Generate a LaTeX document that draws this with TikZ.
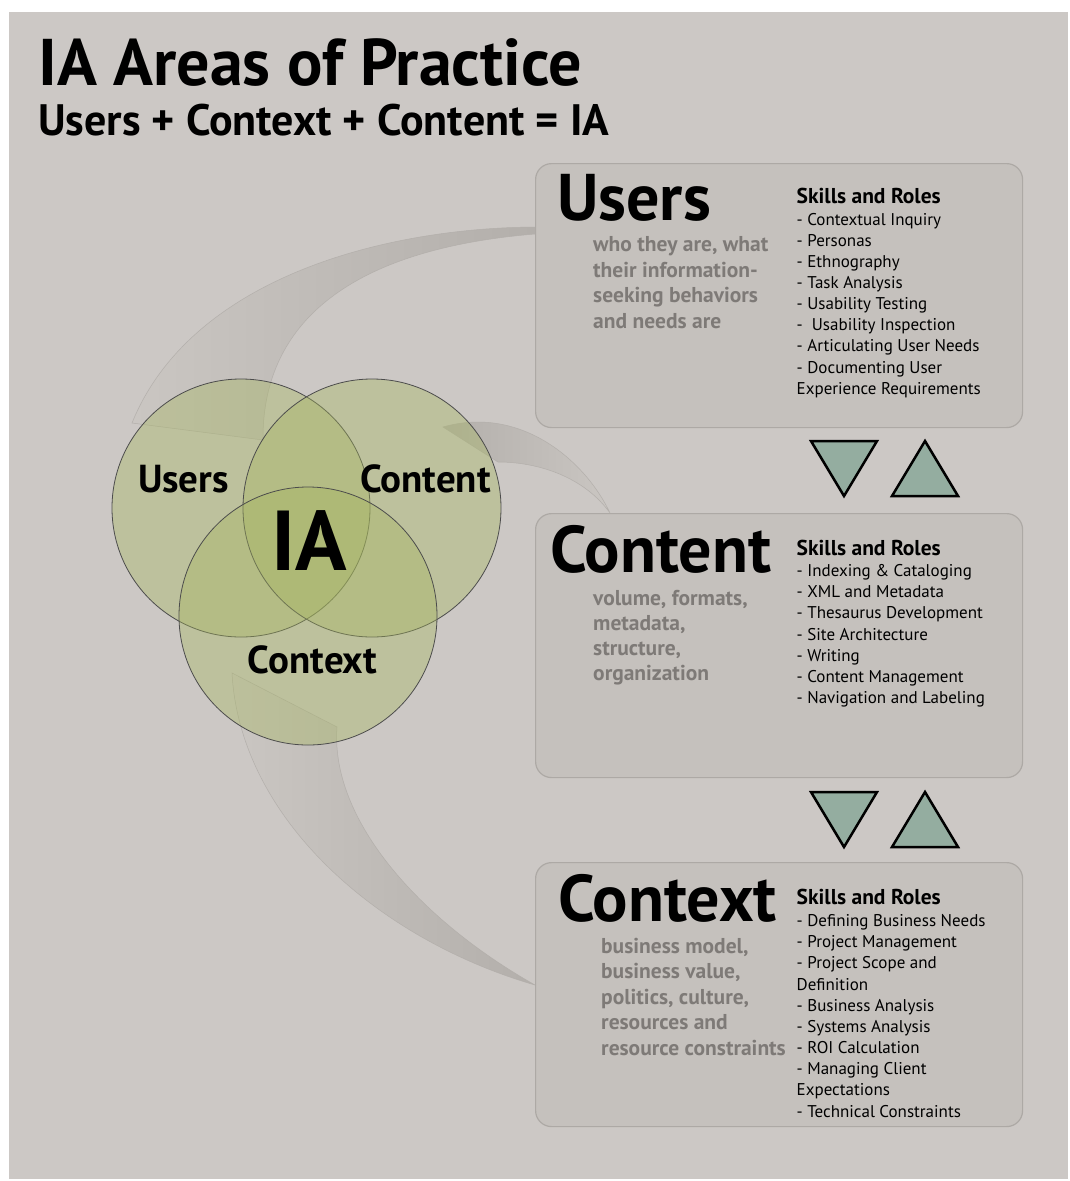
\documentclass[tikz,border=0pt]{standalone}
\usepackage{fontspec}
\setmainfont{PT Sans}
\usetikzlibrary{positioning, shapes.geometric}
\definecolor{bggray}{HTML}{CCC8C5}
\definecolor{boxgray}{HTML}{C5C1BD}
\definecolor{boxline}{HTML}{ADA9A5}
\definecolor{venngreen}{HTML}{A6B65E}
\definecolor{descgray}{HTML}{7E7A77}
\definecolor{trigreen}{HTML}{94ADA0}
\definecolor{swlight}{HTML}{CAC6C2}
\definecolor{swdark}{HTML}{B3AFAB}
\tikzset{
    area/.style = {draw = boxline, fill = boxgray, rounded corners = 16pt, line width = 1.2pt, minimum width = 487pt, minimum height = 264pt, inner sep = 0pt},
    venn/.style = {circle, draw = black!70, line width = 0.8pt, fill = venngreen, fill opacity = 0.38, minimum size = 258pt, inner sep = 0pt},
    vennlabel/.style = {anchor = base, inner sep = 0pt, font = \fontsize{39}{39}\selectfont\bfseries},
    heading/.style = {anchor = base west, inner sep = 0pt, text depth = 0pt, font = \fontsize{66}{66}\selectfont\bfseries},
    skillhead/.style = {anchor = base west, inner sep = 0pt, font = \fontsize{21.5}{21.5}\selectfont\bfseries},
    skill/.style = {anchor = base west, inner sep = 0pt, font = \fontsize{17}{17}\selectfont},
    desc/.style = {anchor = base west, inner sep = 0pt, text = descgray, font = \fontsize{21.5}{21.5}\selectfont\bfseries},
    swoosh/.style = {draw = swdark, line width = 0.5pt, left color = swlight, right color = swdark},
    flow/.style = {draw = black, line width = 2.5pt, fill = trigreen, line join = miter}
}

\begin{document}
\begin{tikzpicture}[x = 1pt, y = -1pt]
    \useasboundingbox (0,0) rectangle (1070,1181);
    \fill[white]  (0,0) rectangle (1070,1181);
    \fill[bggray] (9,12) rectangle (1068,1179);
    % title
    \node[anchor = base west, inner sep = 0pt, font = \fontsize{66}{66}\selectfont\bfseries] (title) at (38,85) {IA Areas of Practice};
    \node[anchor = base west, inner sep = 0pt, font = \fontsize{44}{44}\selectfont\bfseries] (subtitle) at (38,135) {Users + Context + Content = IA};
    % swooshes
    \shade[swoosh] (535,227) .. controls (380,228) and (190,280) .. (132,423) -- (263,440) .. controls (262,330) and (340,250) .. (535,234) -- cycle;
    \shade[swoosh, left color = swdark, right color = swlight] (443,427) .. controls (520,405) and (585,460) .. (610,513) .. controls (585,478) and (540,462) .. (498,462) -- cycle;
    \shade[swoosh] (232,673) .. controls (240,820) and (380,940) .. (535,985) .. controls (420,920) and (330,820) .. (337,727) -- cycle;
    % boxes
    \node[area, anchor = north west] (usersbox)   at (535,163) {};
    \node[area, anchor = north west] (contentbox) at (535,513) {};
    \node[area, anchor = north west] (contextbox) at (535,862) {};
    % venn
    \node[venn] (vusers)   at (241,508) {};
    \node[venn] (vcontent) at (372,508) {};
    \node[venn] (vcontext) at (308,616) {};
    \node[vennlabel] (lusers)   at (183.5,492) {Users};
    \node[vennlabel] (lcontent) at (425.5,492) {Content};
    \node[vennlabel] (lcontext) at (312.5,673) {Context};
    \node[vennlabel, font = \fontsize{85}{85}\selectfont\bfseries] (lia) at (309,570) {IA};
    % users box
    \node[heading]   (husers) at (557,220) {Users};
    \node[skillhead] (susers) at (796.5,203) {Skills and Roles};
    \foreach \txt [count = \i] in {{who they are, what}, {their information-}, {seeking behaviors}, {and needs are}}
        \node[desc] (du\i) at (593,{226.2+25.5*\i}) {\txt};
    \foreach \txt [count = \i] in {- Contextual Inquiry, - Personas, - Ethnography, - Task Analysis, - Usability Testing, -~ Usability Inspection, - Articulating User Needs, - Documenting User, Experience Requirements}
        \node[skill] (ku\i) at (796.5,{203.9+21.15*\i}) {\txt};
    % content box
    \node[heading]   (hcontent) at (550,572) {Content};
    \node[skillhead] (scontent) at (796.5,555) {Skills and Roles};
    \foreach \txt [count = \i] in {{volume, formats,}, {metadata,}, {structure,}, {organization}}
        \node[desc] (dc\i) at (593,{579.8+25.2*\i}) {\txt};
    \foreach \txt [count = \i] in {- Indexing \& Cataloging, - XML and Metadata, - Thesaurus Development, - Site Architecture, - Writing, - Content Management, - Navigation and Labeling}
        \node[skill] (kc\i) at (796.5,{555.5+21.15*\i}) {\txt};
    % context box
    \node[heading]   (hcontext) at (558,921) {Context};
    \node[skillhead] (scontext) at (796.5,904) {Skills and Roles};
    \foreach \txt [count = \i] in {{business model,}, {business value,}, {politics, culture,}, {resources and}, {resource constraints}}
        \node[desc] (dx\i) at (601,{927.5+25.5*\i}) {\txt};
    \foreach \txt [count = \i] in {- Defining Business Needs, - Project Management, - Project Scope and, Definition, - Business Analysis, - Systems Analysis, - ROI Calculation, - Managing Client, Expectations, - Technical Constraints}
        \node[skill] (kx\i) at (796.5,{905.5+21.15*\i}) {\txt};
    % arrows
    \draw[flow] (811,441) -- (877,441) -- (844,496) -- cycle;
    \draw[flow] (925,441) -- (958,496) -- (892,496) -- cycle;
    \draw[flow] (811,792) -- (877,792) -- (844,847) -- cycle;
    \draw[flow] (925,792) -- (958,847) -- (892,847) -- cycle;
\end{tikzpicture}
\end{document}
